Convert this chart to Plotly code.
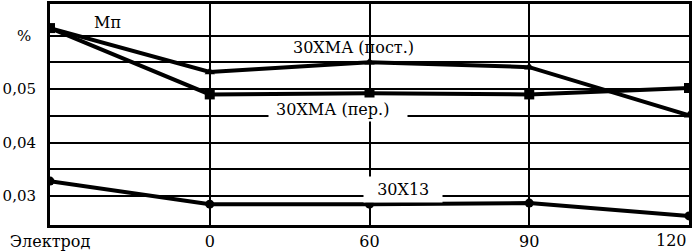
import plotly.graph_objects as go

categories = ["Электрод", "0", "60", "90", "120"]
x_pos = [0, 1, 2, 3, 4]
post_vals = [0.0614, 0.0532, 0.0550, 0.0541, 0.0451]   # 30ХМА (пост.)
per_vals = [0.0614, 0.0490, 0.0492, 0.0490, 0.0502]    # 30ХМА (пер.)
x13_vals = [0.0328, 0.0285, 0.0285, 0.0287, 0.0263]    # 30Х13
y_tickvals = [0.03, 0.035, 0.04, 0.045, 0.05, 0.055, 0.06]
y_ticktext = ["0,03", "", "0,04", "", "0,05", "", "%\u00a0"]
x_ticktext = categories[:-1] + [""]

FONT = "DejaVu Serif"

fig = go.Figure()
fig.add_trace(go.Scatter(x=x_pos, y=post_vals, mode="lines+markers",
                         line=dict(color="black", width=4),
                         marker=dict(symbol="triangle-up", size=9, color="black")))
fig.add_trace(go.Scatter(x=x_pos, y=per_vals, mode="lines+markers",
                         line=dict(color="black", width=4),
                         marker=dict(symbol="square", size=10, color="black")))
fig.add_trace(go.Scatter(x=x_pos, y=x13_vals, mode="lines+markers",
                         line=dict(color="black", width=4),
                         marker=dict(symbol="circle", size=9, color="black")))

ann_font = dict(family=FONT, size=16, color="black")
fig.add_annotation(x=0.36, y=0.0625, text="Мп", showarrow=False, font=ann_font)
fig.add_annotation(x=1.90, y=0.0577, text="30ХМА (пост.)", showarrow=False, font=ann_font)
fig.add_annotation(x=1.80, y=0.0461, text="\u00a030ХМА (пер.)\u00a0\u00a0\u00a0", showarrow=False,
                   font=ann_font, bgcolor="white", borderpad=2)
fig.add_annotation(x=2.21, y=0.0313, text="\u00a0\u00a030Х13\u00a0\u00a0", showarrow=False,
                   font=ann_font, bgcolor="white", borderpad=3)
# last category label, kept inside the page
fig.add_annotation(x=x_pos[-1], y=0, yref="paper", text=categories[-1], showarrow=False,
                   xanchor="right", yanchor="top", yshift=-4,
                   font=dict(family=FONT, size=16, color="black"))

fig.update_layout(
    width=697, height=251,
    margin=dict(l=50, r=8, t=4, b=26),
    plot_bgcolor="white", paper_bgcolor="white",
    showlegend=False,
    font=dict(family=FONT, size=16, color="black"),
)
fig.update_xaxes(range=[0, 4], tickvals=x_pos, ticktext=x_ticktext,
                 showgrid=True, gridcolor="black", gridwidth=2,
                 showline=True, linecolor="black", linewidth=3, mirror=True,
                 ticks="", zeroline=False, automargin=False, ticklabelstandoff=0,
                 tickfont=dict(family=FONT, size=16))
fig.update_yaxes(range=[0.0246, 0.0659], tickvals=y_tickvals, ticktext=y_ticktext,
                 showgrid=True, gridcolor="black", gridwidth=2,
                 showline=True, linecolor="black", linewidth=3, mirror=True,
                 ticks="", zeroline=False, ticklabelstandoff=8, automargin=False,
                 tickfont=dict(family=FONT, size=15))

fig.write_html("out.html", config={"displayModeBar": False},
               post_script="document.body.style.margin='0';document.body.style.overflow='hidden';")
